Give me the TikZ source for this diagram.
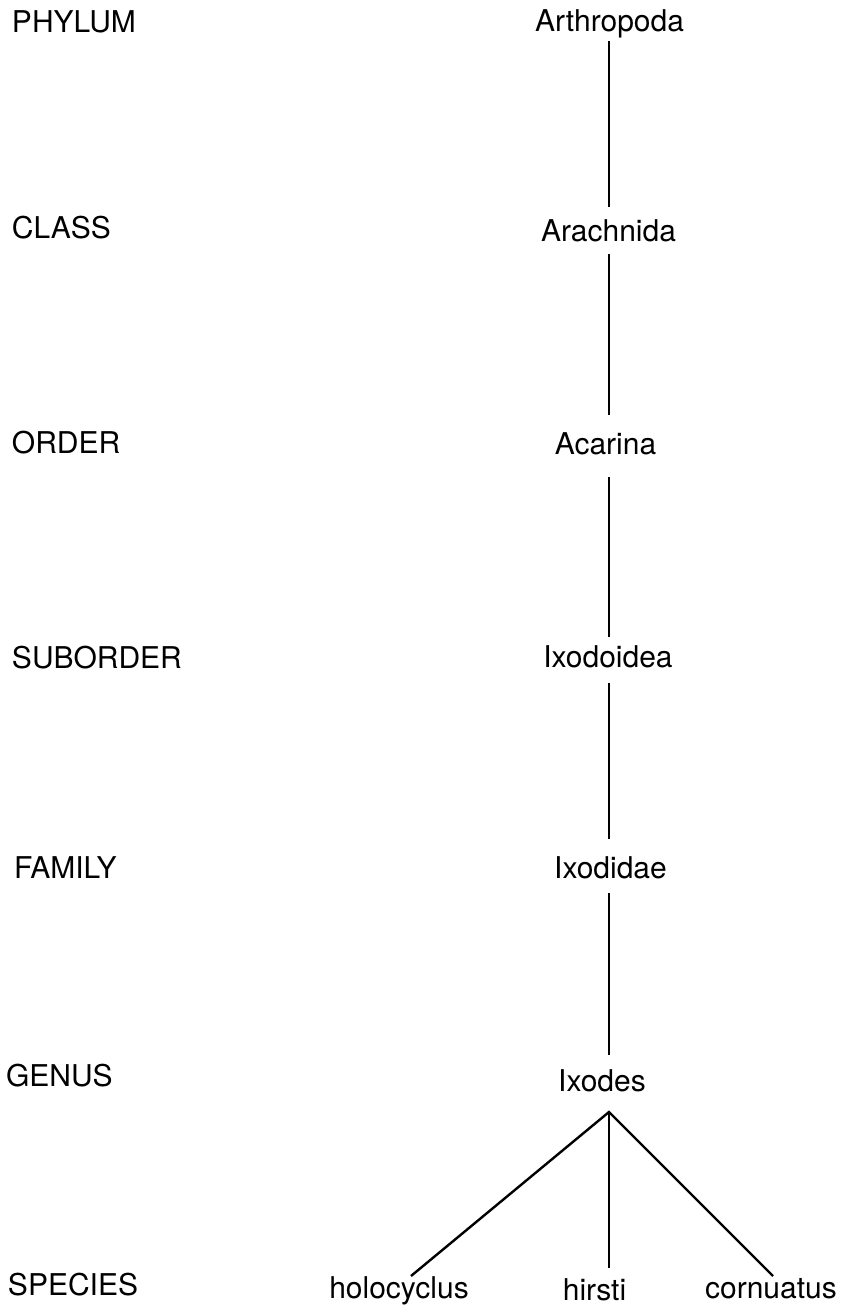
\documentclass[tikz,border=0pt]{standalone}
\usepackage{fontspec}
\setmainfont{TeX Gyre Heros}
\usetikzlibrary{calc}
\begin{document}
\begin{tikzpicture}[x=1pt,y=-1pt,
  lbl/.style={font=\fontsize{30}{36}\selectfont, inner sep=0pt, outer sep=0pt},
  rank/.style={lbl, anchor=base west},
  taxon/.style={lbl, anchor=base},
  link/.style={line width=2.4pt, line cap=butt}]
\fill[white] (0,0) rectangle (856,1310);
\useasboundingbox (0,0) rectangle (856,1310);
\coordinate (axis) at (609,0);
% rank labels
\node[rank] (rphy) at (12,32) {PHYLUM};
\node[rank] (rcla) at (12,238) {CLASS};
\node[rank] (rord) at (12,453) {ORDER};
\node[rank] (rsub) at (12,668) {SUBORDER};
\node[rank] (rfam) at (14,878) {FAMILY};
\node[rank] (rgen) at (6,1086) {GENUS};
\node[rank] (rspe) at (8,1295) {SPECIES};
% taxa
\node[taxon] (phy) at (609.5,31) {Arthropoda};
\node[taxon] (cla) at (608.5,241) {Arachnida};
\node[taxon] (ord) at (605.5,454) {Acarina};
\node[taxon] (sub) at (608,667) {Ixodoidea};
\node[taxon] (fam) at (610.5,878) {Ixodidae};
\node[taxon] (gen) at (602,1091) {Ixodes};
\node[taxon] (holo) at (399,1298) {holocyclus};
\node[taxon] (hir) at (594.5,1300) {hirsti};
\node[taxon] (cor) at (771,1298) {cornuatus};
% connectors
\draw[link] ($(phy.base -| axis)+(0,10)$) -- ($(cla.base -| axis)+(0,-34)$);
\draw[link] ($(cla.base -| axis)+(0,13)$) -- ($(ord.base -| axis)+(0,-39)$);
\draw[link] ($(ord.base -| axis)+(0,23)$) -- ($(sub.base -| axis)+(0,-30)$);
\draw[link] ($(sub.base -| axis)+(0,16)$) -- ($(fam.base -| axis)+(0,-39)$);
\draw[link] ($(fam.base -| axis)+(0,15)$) -- ($(gen.base -| axis)+(0,-36)$);
\coordinate (apex) at ($(gen.base -| axis)+(0,21)$);
\draw[link, line join=miter] ($(holo.base)+(12,-22)$) -- (apex) -- ($(cor.base)+(2,-22)$);
\draw[link] (apex) -- ($(hir.base -| axis)+(0,-32)$);
\end{tikzpicture}
\end{document}
